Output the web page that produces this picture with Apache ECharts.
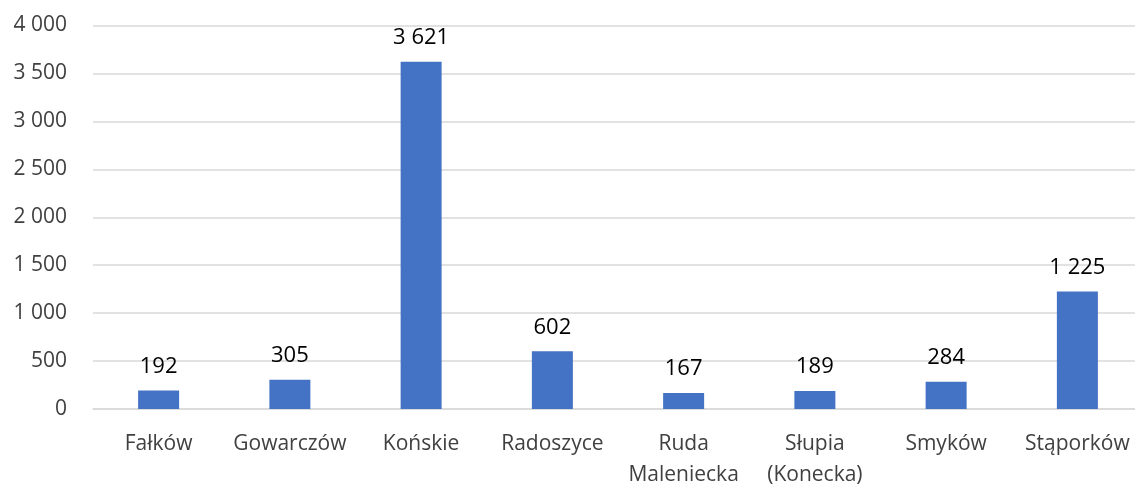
<!DOCTYPE html>
<html>
<head>
<meta charset="utf-8">
<script src="https://cdn.jsdelivr.net/npm/echarts@6/dist/echarts.min.js"></script>
<style>
  html, body { margin: 0; padding: 0; background: #fff; }
  #main { width: 1135px; height: 487px; }
</style>
</head>
<body>
<div id="main"></div>
<script>
var categories = ['Fałków', 'Gowarczów', 'Końskie', 'Radoszyce', 'Ruda\nMaleniecka', 'Słupia\n(Konecka)', 'Smyków', 'Stąporków'];
var values = [192, 305, 3621, 602, 167, 189, 284, 1225];
var yTicks = [0, 500, 1000, 1500, 2000, 2500, 3000, 3500, 4000];

function fmt(v) {
  return String(v).replace(/\B(?=(\d{3})+(?!\d))/g, ' ');
}

var chart = echarts.init(document.getElementById('main'));
var option = {
  animation: false,
  textStyle: { fontFamily: 'Open Sans' },
  grid: { left: 93, right: -8, top: 25.5, bottom: 78, outerBoundsMode: 'none', containLabel: false },
  xAxis: {
    type: 'category',
    data: categories,
    axisLine: { lineStyle: { color: '#d9d9d9', width: 1.5 } },
    axisTick: { show: false },
    axisLabel: { color: '#404040', fontSize: 21, margin: 20, lineHeight: 31, interval: 0 }
  },
  yAxis: {
    type: 'value',
    min: yTicks[0],
    max: yTicks[yTicks.length - 1],
    interval: 500,
    axisLine: { show: false },
    axisTick: { show: false },
    splitLine: { lineStyle: { color: '#d9d9d9', width: 1.5 } },
    axisLabel: { color: '#404040', fontSize: 21, margin: 26, formatter: fmt }
  },
  series: [{
    type: 'bar',
    data: values,
    barWidth: 41,
    itemStyle: { color: '#4472c4' },
    label: {
      show: true,
      position: 'top',
      distance: 13,
      color: '#000',
      fontSize: 22,
      formatter: function (p) { return fmt(p.value); }
    }
  }]
};
chart.setOption(option);
</script>
</body>
</html>
